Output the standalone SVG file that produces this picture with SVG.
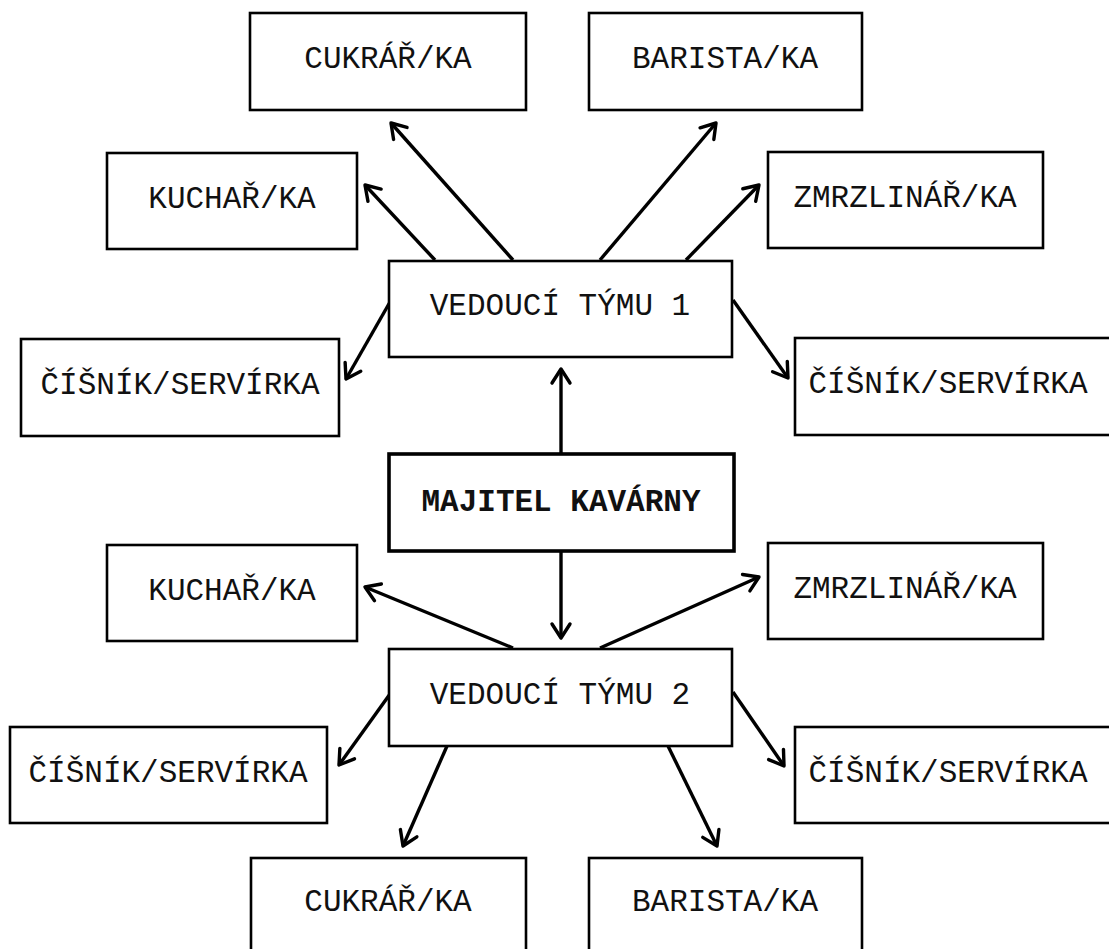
<svg xmlns="http://www.w3.org/2000/svg" width="1109" height="949" viewBox="0 0 1109 949">
<style>
.box{fill:#fff;stroke:#000;stroke-width:2.6}
.main{fill:#fff;stroke:#000;stroke-width:3.6}
.t{font-family:"Liberation Mono","Courier New",monospace;font-size:31px;fill:#111;text-anchor:middle}
.b{font-weight:bold}
.c{stroke:#000;stroke-width:3.4;fill:none}
</style>
<defs>
<marker id="ah" markerUnits="userSpaceOnUse" markerWidth="24" markerHeight="24" viewBox="0 0 24 24" refX="20" refY="12" orient="auto">
<path d="M6,3 L20,12 L6,21" fill="none" stroke="#000" stroke-width="3.4" stroke-linejoin="round" stroke-linecap="round"/>
</marker>
</defs>
<rect width="1109" height="949" fill="#fff"/>
<g id="connectors">
<line class="c" x1="513" y1="260" x2="391" y2="123" marker-end="url(#ah)"/>
<line class="c" x1="435" y1="260" x2="365" y2="185" marker-end="url(#ah)"/>
<line class="c" x1="600" y1="260" x2="716" y2="123" marker-end="url(#ah)"/>
<line class="c" x1="686" y1="260" x2="759" y2="185" marker-end="url(#ah)"/>
<line class="c" x1="390" y1="302" x2="346" y2="379" marker-end="url(#ah)"/>
<line class="c" x1="733" y1="300" x2="788" y2="378" marker-end="url(#ah)"/>
<line class="c" x1="561" y1="454" x2="561" y2="369" marker-end="url(#ah)"/>
<line class="c" x1="561" y1="551" x2="561" y2="638" marker-end="url(#ah)"/>
<line class="c" x1="513" y1="648" x2="365" y2="587" marker-end="url(#ah)"/>
<line class="c" x1="600" y1="648" x2="759" y2="577" marker-end="url(#ah)"/>
<line class="c" x1="390" y1="694" x2="339" y2="765" marker-end="url(#ah)"/>
<line class="c" x1="733" y1="692" x2="784" y2="766" marker-end="url(#ah)"/>
<line class="c" x1="447" y1="746" x2="403" y2="846" marker-end="url(#ah)"/>
<line class="c" x1="668" y1="746" x2="717" y2="846" marker-end="url(#ah)"/>
</g>
<g id="cukrar1"><rect class="box" x="250" y="13" width="276" height="97"/><text class="t" x="388" y="68">CUKRÁŘ/KA</text></g>
<g id="barista1"><rect class="box" x="589" y="13" width="273" height="97"/><text class="t" x="725" y="68">BARISTA/KA</text></g>
<g id="kuchar1"><rect class="box" x="107" y="153" width="250" height="96"/><text class="t" x="232" y="208">KUCHAŘ/KA</text></g>
<g id="zmrzlinar1"><rect class="box" x="768" y="152" width="275" height="96"/><text class="t" x="905" y="207">ZMRZLINÁŘ/KA</text></g>
<g id="vedouci1"><rect class="box" x="389" y="261" width="343" height="96"/><text class="t" x="560" y="315">VEDOUCÍ TÝMU 1</text></g>
<g id="cisnik1l"><rect class="box" x="21" y="339" width="318" height="97"/><text class="t" x="180" y="394">ČÍŠNÍK/SERVÍRKA</text></g>
<g id="cisnik1r"><rect class="box" x="795" y="338" width="320" height="97"/><text class="t" x="948" y="393">ČÍŠNÍK/SERVÍRKA</text></g>
<g id="majitel"><rect class="main" x="389" y="454" width="345" height="97"/><text class="t b" x="561" y="511">MAJITEL KAVÁRNY</text></g>
<g id="kuchar2"><rect class="box" x="107" y="545" width="250" height="96"/><text class="t" x="232" y="600">KUCHAŘ/KA</text></g>
<g id="zmrzlinar2"><rect class="box" x="768" y="543" width="275" height="96"/><text class="t" x="905" y="598">ZMRZLINÁŘ/KA</text></g>
<g id="vedouci2"><rect class="box" x="389" y="649" width="343" height="97"/><text class="t" x="560" y="704">VEDOUCÍ TÝMU 2</text></g>
<g id="cisnik2l"><rect class="box" x="10" y="727" width="317" height="96"/><text class="t" x="168" y="782">ČÍŠNÍK/SERVÍRKA</text></g>
<g id="cisnik2r"><rect class="box" x="795" y="727" width="320" height="96"/><text class="t" x="948" y="782">ČÍŠNÍK/SERVÍRKA</text></g>
<g id="cukrar2"><rect class="box" x="251" y="858" width="275" height="97"/><text class="t" x="388" y="911">CUKRÁŘ/KA</text></g>
<g id="barista2"><rect class="box" x="589" y="858" width="273" height="97"/><text class="t" x="725" y="911">BARISTA/KA</text></g>
</svg>
